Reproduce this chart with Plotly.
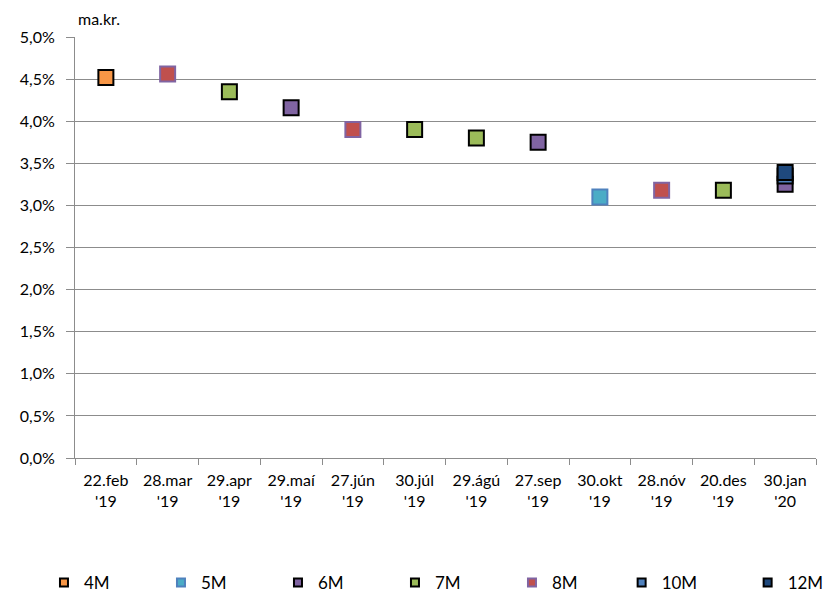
import plotly.graph_objects as go

# categories on the x axis
dates = ["22.feb '19", "28.mar '19", "29.apr '19", "29.maí '19", "27.jún '19", "30.júl '19",
         "29.ágú '19", "27.sep '19", "30.okt '19", "28.nóv '19", "20.des '19", "30.jan '20"]
date_labels = [d.replace(" ", "<br>") for d in dates]

# series: which date each maturity was issued on, and the yield (%)
s4m_x = ["22.feb '19"]
s4m_y = [4.52]
s5m_x = ["30.okt '19"]
s5m_y = [3.10]
s6m_x = ["29.maí '19", "27.sep '19", "30.jan '20"]
s6m_y = [4.16, 3.75, 3.25]
s7m_x = ["29.apr '19", "30.júl '19", "29.ágú '19", "20.des '19"]
s7m_y = [4.35, 3.90, 3.80, 3.18]
s8m_x = ["28.mar '19", "27.jún '19", "28.nóv '19"]
s8m_y = [4.56, 3.90, 3.18]
s10m_x = ["30.jan '20"]
s10m_y = [3.35]
s12m_x = ["30.jan '20"]
s12m_y = [3.39]

y_ticks = [0, 0.5, 1.0, 1.5, 2.0, 2.5, 3.0, 3.5, 4.0, 4.5, 5.0]
y_tick_labels = ["0,0%", "0,5%", "1,0%", "1,5%", "2,0%", "2,5%", "3,0%", "3,5%", "4,0%", "4,5%", "5,0%"]

# name, x, y, fill, edge, which legend box
series = [
    ("4M", s4m_x, s4m_y, "#F79646", "#000000", "legend"),
    ("5M", s5m_x, s5m_y, "#4BACC6", "#4F81BD", "legend"),
    ("6M", s6m_x, s6m_y, "#8064A2", "#000000", "legend"),
    ("7M", s7m_x, s7m_y, "#9BBB59", "#000000", "legend"),
    ("8M", s8m_x, s8m_y, "#C0504D", "#8064A2", "legend"),
    ("10M", s10m_x, s10m_y, "#4F81BD", "#000000", "legend2"),
    ("12M", s12m_x, s12m_y, "#1F497D", "#000000", "legend2"),
]

FONT = "Lato, 'Open Sans', sans-serif"

fig = go.Figure()
for name, xs, ys, fill, edge, leg in series:
    fig.add_trace(go.Scatter(
        x=xs, y=ys, mode="markers", name=name, showlegend=False,
        marker=dict(symbol="square", size=15, color=fill, line=dict(color=edge, width=2)),
    ))
    # small legend swatch like the original
    fig.add_trace(go.Scatter(
        x=[None], y=[None], mode="markers", name=name, legend=leg,
        marker=dict(symbol="square", size=8, color=fill, line=dict(color=edge, width=2)),
    ))

legend_common = dict(
    orientation="h", xanchor="left", xref="container",
    y=-0.01, yanchor="bottom", yref="container",
    entrywidthmode="pixels", font=dict(size=17), itemclick=False,
)

# the page body adds an 8px margin, so the figure is 8px smaller
fig.update_layout(
    width=827, height=593,
    margin=dict(l=67, r=19, t=29, b=143, autoexpand=False),
    plot_bgcolor="white", paper_bgcolor="white",
    font=dict(family=FONT, size=16, color="#000000"),
    xaxis=dict(
        type="category", categoryorder="array", categoryarray=dates,
        tickvals=dates, ticktext=date_labels,
        range=[-0.5, len(dates) - 0.5],
        showgrid=False, showline=True, linecolor="#8C8C8C", linewidth=1,
        ticks="outside", tickson="boundaries", ticklen=6, tickcolor="#8C8C8C",
        ticklabelstandoff=8, tickfont=dict(size=16),
    ),
    yaxis=dict(
        range=[0, 5.0], tickvals=y_ticks, ticktext=y_tick_labels,
        showgrid=True, gridcolor="#8C8C8C", gridwidth=1,
        showline=True, linecolor="#8C8C8C", linewidth=1,
        ticks="outside", ticklen=8, tickcolor="#8C8C8C",
        ticklabelstandoff=8, zeroline=False, tickfont=dict(size=16),
    ),
    legend=dict(x=0.0435, entrywidth=72, **legend_common),
    legend2=dict(x=0.742, entrywidth=81, **legend_common),
    annotations=[dict(
        text="ma.kr.", x=0.002, y=1.0, xref="paper", yref="paper",
        xanchor="left", yanchor="bottom", yshift=7, showarrow=False,
        font=dict(size=16),
    )],
)

fig.write_html("out.html")
